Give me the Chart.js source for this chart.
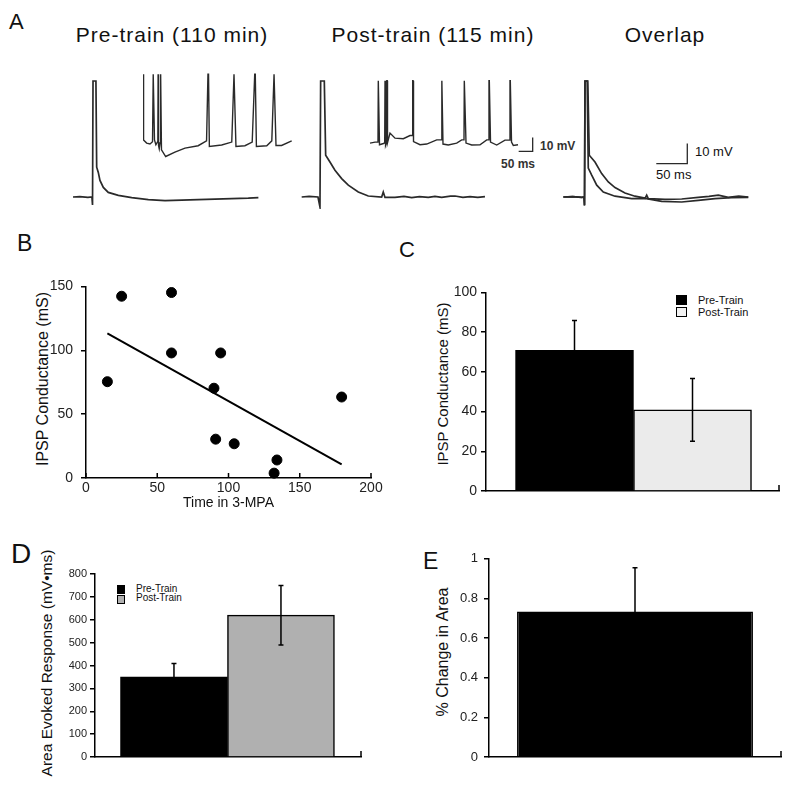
<!DOCTYPE html>
<html>
<head>
<meta charset="utf-8">
<script src="https://cdn.jsdelivr.net/npm/chart.js@4.4.1/dist/chart.umd.min.js"></script>
<style>
  html, body { margin: 0; padding: 0; background: #fff; }
  body { width: 800px; height: 786px; position: relative; overflow: hidden;
         font-family: "Liberation Sans", Arial, Helvetica, sans-serif; color: #111; }
  .t { position: absolute; line-height: 1.2; white-space: nowrap; }
  .yt { position: absolute; line-height: 1.2; white-space: nowrap; transform: translate(-50%, -50%) rotate(-90deg); }
  .sw { position: absolute; box-sizing: border-box; border: 1px solid #000; }
  canvas { position: absolute; }
</style>
</head>
<body>
<div class="t" style="left:9px;top:9px;font-size:22px">A</div>
<div class="t" style="left:52px;top:22px;width:240px;text-align:center;font-size:21px;letter-spacing:1px">Pre-train (110 min)</div>
<div class="t" style="left:313px;top:22px;width:240px;text-align:center;font-size:21px;letter-spacing:1px">Post-train (115 min)</div>
<div class="t" style="left:545px;top:22px;width:240px;text-align:center;font-size:21px;letter-spacing:1px">Overlap</div>
<div class="t" style="left:540px;top:138.8px;font-size:12px;font-weight:bold;color:#333">10 mV</div>
<div class="t" style="left:501px;top:157.4px;font-size:12px;font-weight:bold;color:#333">50 ms</div>
<div class="t" style="left:695px;top:144px;font-size:13px">10 mV</div>
<div class="t" style="left:656px;top:166.7px;font-size:13px">50 ms</div>

<div class="t" style="left:17px;top:229.7px;font-size:23px">B</div>
<div class="t" style="left:399px;top:236.8px;font-size:22px">C</div>
<div class="t" style="left:11px;top:536.6px;font-size:28px">D</div>
<div class="t" style="left:423px;top:547.7px;font-size:23px">E</div>

<div class="yt" style="left:43px;top:379px;font-size:16px">IPSP Conductance (mS)</div>
<div class="yt" style="left:443px;top:384px;font-size:15px">IPSP Conductance (mS)</div>
<div class="yt" style="left:47px;top:663px;font-size:15.5px">Area Evoked Response (mV&#8226;ms)</div>
<div class="yt" style="left:443px;top:652px;font-size:16px">% Change in Area</div>

<div class="sw" style="left:676px;top:295px;width:11px;height:10px;background:#000"></div>
<div class="sw" style="left:676px;top:307px;width:11px;height:10px;background:#f2f2f2"></div>
<div class="t" id="legC0" style="left:698px;top:293.5px;font-size:11px"></div>
<div class="t" id="legC1" style="left:698px;top:306px;font-size:11px"></div>

<div class="sw" style="left:117px;top:585px;width:8px;height:9px;background:#000"></div>
<div class="sw" style="left:117px;top:595px;width:8px;height:9px;background:#b0b0b0"></div>
<div class="t" id="legD0" style="left:136px;top:583.1px;font-size:10px"></div>
<div class="t" id="legD1" style="left:136px;top:592.1px;font-size:10px"></div>

<canvas id="preMain" width="188" height="132" style="left:72px;top:77px"></canvas>
<canvas id="preInset" width="150" height="90" style="left:143px;top:70px"></canvas>
<canvas id="postMain" width="188" height="132" style="left:300px;top:77px"></canvas>
<canvas id="postInset" width="166" height="90" style="left:369px;top:70px"></canvas>
<canvas id="overlap" width="192" height="132" style="left:562px;top:77px"></canvas>
<canvas id="chartB" width="390" height="242" style="left:0px;top:270px"></canvas>
<canvas id="chartC" width="395" height="225" style="left:405px;top:280px"></canvas>
<canvas id="chartD" width="390" height="215" style="left:0px;top:560px"></canvas>
<canvas id="chartE" width="395" height="230" style="left:405px;top:545px"></canvas>

<script>
// ---- Panel A: recorded traces, [time (ms), membrane potential re. rest (mV)]
const preTrainEvoked = [[0,0],[11,0.2],[24,-0.2],[30.5,0],[31.5,-4],[32.3,58],[37,58],[38.2,14.9],[40.8,12.3],[43.5,8.3],[48.9,4.8],[56.9,2.3],[73.1,0.8],[94.7,-0.3],[121.5,-1.3],[148.4,-1.8],[175.3,-1.6],[201.6,-1.3],[229,-1.1],[256,-0.8],[282.7,-0.6],[299,-0.3]];
const preTrainSpikes = [[0,49],[1,2],[12,-0.2],[24,-0.9],[33,0.7],[35.5,49],[37.5,49],[40,2],[45,-1.4],[52,1],[53,49],[54,49],[55,-2],[57,-4.3],[60,0],[61,49],[63,49],[65,-5],[80,-9.8],[113,-6.6],[149,-3.8],[196,-2.1],[226,1.4],[231,49],[233,49],[236,-2.6],[280,-1.6],[316,0.5],[324,49],[326,49],[331,-2.6],[363,-2.1],[389,0.5],[398,49],[400,49],[404,-2.6],[441,-2.1],[459,1.4],[467,49],[469,49],[474,-1.9],[494,-1.9],[530,1.4]];
const postTrainEvoked = [[0,0],[12,0.3],[26.3,0],[29.5,-5],[30.6,58],[36.5,58],[38.7,20.9],[45.6,17.5],[53.7,13.4],[64.5,9.2],[75.2,5.9],[91.3,2.5],[107.4,0.5],[129,0],[131.6,2.5],[134.4,-0.2],[150.5,-0.2],[165,0.3],[177.4,-0.3],[190,0.2],[204.2,-0.2],[215,0.3],[225.8,-0.2],[240,0.4],[247.3,0.5],[260,-0.2],[271.5,0.2],[284,-0.2],[295.6,0.2]];
const postTrainSpikes = [[0,-0.2],[18,0.5],[28.5,0.5],[29.6,44.3],[31.1,44.3],[33.9,-1.4],[48,-0.5],[52.5,0],[53.6,44.3],[55,44.3],[56.1,-1.9],[58.9,0],[60,44.3],[61.5,44.3],[62.5,0],[71.4,6.9],[89.3,3.3],[118.9,2.9],[142.9,5.2],[151.1,5.2],[152.5,44.3],[153.6,44.3],[155.4,0.9],[178.6,-1.4],[202.5,-0.9],[238.2,2.1],[254.6,2.1],[256.1,44.3],[257.1,44.3],[260.7,-0.9],[279.6,-1.6],[309.6,-0.2],[327.5,2.1],[335.7,2.1],[336.8,44.3],[338.2,44.3],[342.9,-0.2],[363.2,-1.6],[392.9,-1.4],[416.8,2.1],[423.9,2.1],[425,44.3],[426.1,44.3],[430.4,0.5],[452.5,-1.6],[482.1,1.9],[498.9,1.9],[500,44.3],[501.1,44.3],[505.4,0.5],[511.8,-1.9],[528.6,-1.4]];
const overlapPre = [[0,0],[15,0.2],[30,-0.2],[33.4,0],[34.2,-4.2],[35,58],[38.5,58],[40.3,14.5],[45.8,10.9],[53.9,5.9],[64.5,2.5],[83.4,0.4],[110.3,-0.8],[131.8,-0.7],[158.7,-2.2],[191,-2.5],[217.7,-1.7],[244.7,-0.8],[271.6,-0.3],[298.4,-0.2]];
const overlapPost = [[0,0],[15,0.2],[30,-0.2],[33.4,0],[34.2,-4.2],[35,58],[39.5,58],[41.9,20.9],[51.1,17.5],[61.9,11.7],[72.6,7.5],[83.4,4.7],[99.5,2],[115.6,0.4],[132,-0.6],[134.5,0.9],[137.1,-0.8],[164,-1.2],[191,-1],[217.7,-0.2],[235,0.3],[250,0.9],[266.1,-0.2],[283,0.4],[298.4,0]];
const scaleBarInset = [[531,-6.2],[581,-6.2],[581,3.8]];   // 50 ms / 10 mV
const scaleBarOverlap = [[150,16.7],[200,16.7],[200,26.7]]; // 50 ms / 10 mV

// ---- Panel B: IPSP conductance vs time in 3-MPA
const timeIn3MPA = [15, 25, 60, 60, 94.5, 89.8, 91, 104, 134, 132, 179.4];
const ipspConductance = [75.4, 142.3, 145.2, 97.9, 97.9, 70.3, 30.4, 26.8, 14.1, 3.8, 63.4];
const fitTime = [15, 179.4];
const fitConductance = [113.2, 10.7];

// ---- Panels C-E: group means and SEM
const groupLabels = ['Pre-Train', 'Post-Train'];
const conductanceMean = [70.8, 40.9];
const conductanceSem = [15, 15.8];
const areaMean = [350, 620];
const areaSem = [58.8, 130];
const changeMean = [0.734];
const changeSem = [0.221];

Chart.defaults.font.family = '"Liberation Sans", Arial, Helvetica, sans-serif';
Chart.defaults.color = '#222';

const errorBars = {
  id: 'errorBars',
  afterDatasetsDraw(chart, args, opts) {
    if (!opts || !opts.errors) return;
    const { ctx } = chart;
    const y = chart.scales.y;
    const meta = chart.getDatasetMeta(0);
    ctx.save();
    ctx.strokeStyle = '#000';
    ctx.lineWidth = 1.5;
    ctx.beginPath();
    meta.data.forEach((bar, i) => {
      const v = chart.data.datasets[0].data[i].y;
      const e = opts.errors[i];
      const top = y.getPixelForValue(v + e);
      const bot = y.getPixelForValue(v - e);
      ctx.moveTo(bar.x, top); ctx.lineTo(bar.x, bot);
      ctx.moveTo(bar.x - 2.5, top); ctx.lineTo(bar.x + 2.5, top);
      ctx.moveTo(bar.x - 2.5, bot); ctx.lineTo(bar.x + 2.5, bot);
    });
    ctx.stroke();
    ctx.restore();
  }
};

// tick marks that point into the plot, and the little mark closing the x axis
const axisMarks = {
  id: 'axisMarks',
  afterDraw(chart, args, opts) {
    if (!opts || (!opts.inwardTicks && !opts.endTick)) return;
    const { ctx, chartArea } = chart;
    const x = chart.scales.x;
    ctx.save();
    ctx.strokeStyle = '#000';
    ctx.lineWidth = 1.5;
    ctx.beginPath();
    if (opts.inwardTicks) {
      x.ticks.forEach(t => {
        const px = x.getPixelForValue(t.value);
        ctx.moveTo(px, chartArea.bottom); ctx.lineTo(px, chartArea.bottom - 5);
      });
    }
    if (opts.endTick) {
      ctx.moveTo(chartArea.right, chartArea.bottom); ctx.lineTo(chartArea.right, chartArea.bottom - 6);
    }
    ctx.stroke();
    ctx.restore();
  }
};

Chart.register(errorBars, axisMarks);

const toPoints = arr => arr.map(([x, y]) => ({ x, y }));

function traceChart(id, traces, xRange, yRange) {
  return new Chart(document.getElementById(id), {
    type: 'scatter',
    data: {
      datasets: traces.map(t => ({
        data: toPoints(t.data),
        showLine: true,
        borderColor: t.color || '#2a2a2a',
        borderWidth: t.width || 1.7,
        pointRadius: 0,
        tension: 0,
        clip: false
      }))
    },
    options: {
      responsive: false,
      animation: false,
      events: [],
      layout: { padding: 0 },
      plugins: { legend: { display: false }, tooltip: { enabled: false } },
      scales: {
        x: { type: 'linear', display: false, min: xRange[0], max: xRange[1] },
        y: { type: 'linear', display: false, min: yRange[0], max: yRange[1] }
      }
    }
  });
}

traceChart('preMain', [{ data: preTrainEvoked }], [-1.6, 301.6], [-6, 60]);
traceChart('preInset', [{ data: preTrainSpikes, width: 1.4 }], [-1, 534.7], [-12.3, 52]);
traceChart('postMain', [{ data: postTrainEvoked }], [-2.7, 300.5], [-6, 60]);
traceChart('postInset', [{ data: postTrainSpikes, width: 1.4 }, { data: scaleBarInset, width: 1.3 }], [-3.6, 589.3], [-12.3, 52]);
traceChart('overlap', [{ data: overlapPre }, { data: overlapPost }, { data: scaleBarOverlap, width: 1.3 }], [-2.1, 307.6], [-6, 60]);

// ---- B
new Chart(document.getElementById('chartB'), {
  type: 'scatter',
  data: {
    datasets: [
      {
        data: timeIn3MPA.map((t, i) => ({ x: t, y: ipspConductance[i] })),
        pointRadius: 5,
        pointBackgroundColor: '#000',
        pointBorderColor: '#000',
        clip: false
      },
      {
        data: fitTime.map((t, i) => ({ x: t, y: fitConductance[i] })),
        showLine: true,
        borderColor: '#000',
        borderWidth: 2,
        pointRadius: 0
      }
    ]
  },
  options: {
    responsive: false,
    animation: false,
    events: [],
    layout: { padding: { left: 33.4, top: 13, right: 19, bottom: 0 } },
    plugins: { legend: { display: false }, tooltip: { enabled: false }, axisMarks: { inwardTicks: true } },
    scales: {
      x: {
        type: 'linear', min: 0, max: 200,
        afterFit: s => { s.height = 34; },
        ticks: { stepSize: 50, padding: 2, font: { size: 14 } },
        grid: { display: false, drawTicks: false },
        border: { color: '#000', width: 1.5 },
        title: { display: true, text: 'Time in 3-MPA', font: { size: 14 }, color: '#111', padding: 0 }
      },
      y: {
        min: 0, max: 150,
        afterFit: s => { s.width = 52.6; },
        ticks: { stepSize: 50, padding: 8, font: { size: 14 } },
        grid: { drawOnChartArea: false, color: '#000', lineWidth: 1.5, tickLength: 5 },
        border: { color: '#000', width: 1.5 }
      }
    }
  }
});

function barChart(id, opts) {
  return new Chart(document.getElementById(id), {
    type: 'bar',
    data: {
      datasets: [{
        data: opts.means.map((m, i) => ({ x: i + 1, y: m })),
        backgroundColor: opts.colors,
        borderColor: '#000',
        borderWidth: 1.5,
        barPercentage: opts.barPercentage || 1,
        categoryPercentage: 1
      }]
    },
    options: {
      responsive: false,
      animation: false,
      events: [],
      layout: { padding: opts.padding },
      plugins: {
        legend: { display: false }, tooltip: { enabled: false },
        errorBars: { errors: opts.errors },
        axisMarks: { endTick: true }
      },
      scales: {
        x: {
          type: 'linear', offset: false, min: opts.xRange[0], max: opts.xRange[1],
          afterBuildTicks: s => { s.ticks = [{ value: s.min }, { value: s.max }]; },
          afterFit: s => { s.height = opts.xHeight; },
          ticks: { display: false },
          grid: { display: false, drawTicks: false },
          border: { color: '#000', width: 1.5 }
        },
        y: {
          min: 0, max: opts.yMax,
          afterFit: s => { s.width = opts.yWidth; },
          ticks: {
            stepSize: opts.yStep, padding: opts.tickPad, font: { size: opts.tickSize },
            callback: v => String(Number(v.toFixed(2)))
          },
          grid: { drawOnChartArea: false, color: '#000', lineWidth: 1.5, tickLength: 5 },
          border: { color: '#000', width: 1.5 }
        }
      }
    }
  });
}

// ---- C
barChart('chartC', {
  means: conductanceMean, errors: conductanceSem, colors: ['#000', '#ebebeb'],
  xRange: [0.25, 2.733], xHeight: 14, yWidth: 52, yMax: 100, yStep: 20,
  tickPad: 4, tickSize: 14,
  padding: { left: 29, top: 12, right: 21, bottom: 0 }
});

// ---- D
barChart('chartD', {
  means: areaMean, errors: areaSem, colors: ['#000', '#b0b0b0'],
  xRange: [0.262, 2.748], xHeight: 18, yWidth: 57.3, yMax: 800, yStep: 100,
  tickPad: 3, tickSize: 11,
  padding: { left: 37.7, top: 14, right: 29, bottom: 0 }
});

// ---- E
barChart('chartE', {
  means: changeMean, errors: changeSem, colors: ['#000'], barPercentage: 0.808,
  xRange: [0, 2], xHeight: 18, yWidth: 55.6, yMax: 1, yStep: 0.2,
  tickPad: 6, tickSize: 13,
  padding: { left: 28.4, top: 13, right: 19, bottom: 0 }
});

document.getElementById('legC0').textContent = groupLabels[0];
document.getElementById('legC1').textContent = groupLabels[1];
document.getElementById('legD0').textContent = groupLabels[0];
document.getElementById('legD1').textContent = groupLabels[1];
</script>
</body>
</html>
